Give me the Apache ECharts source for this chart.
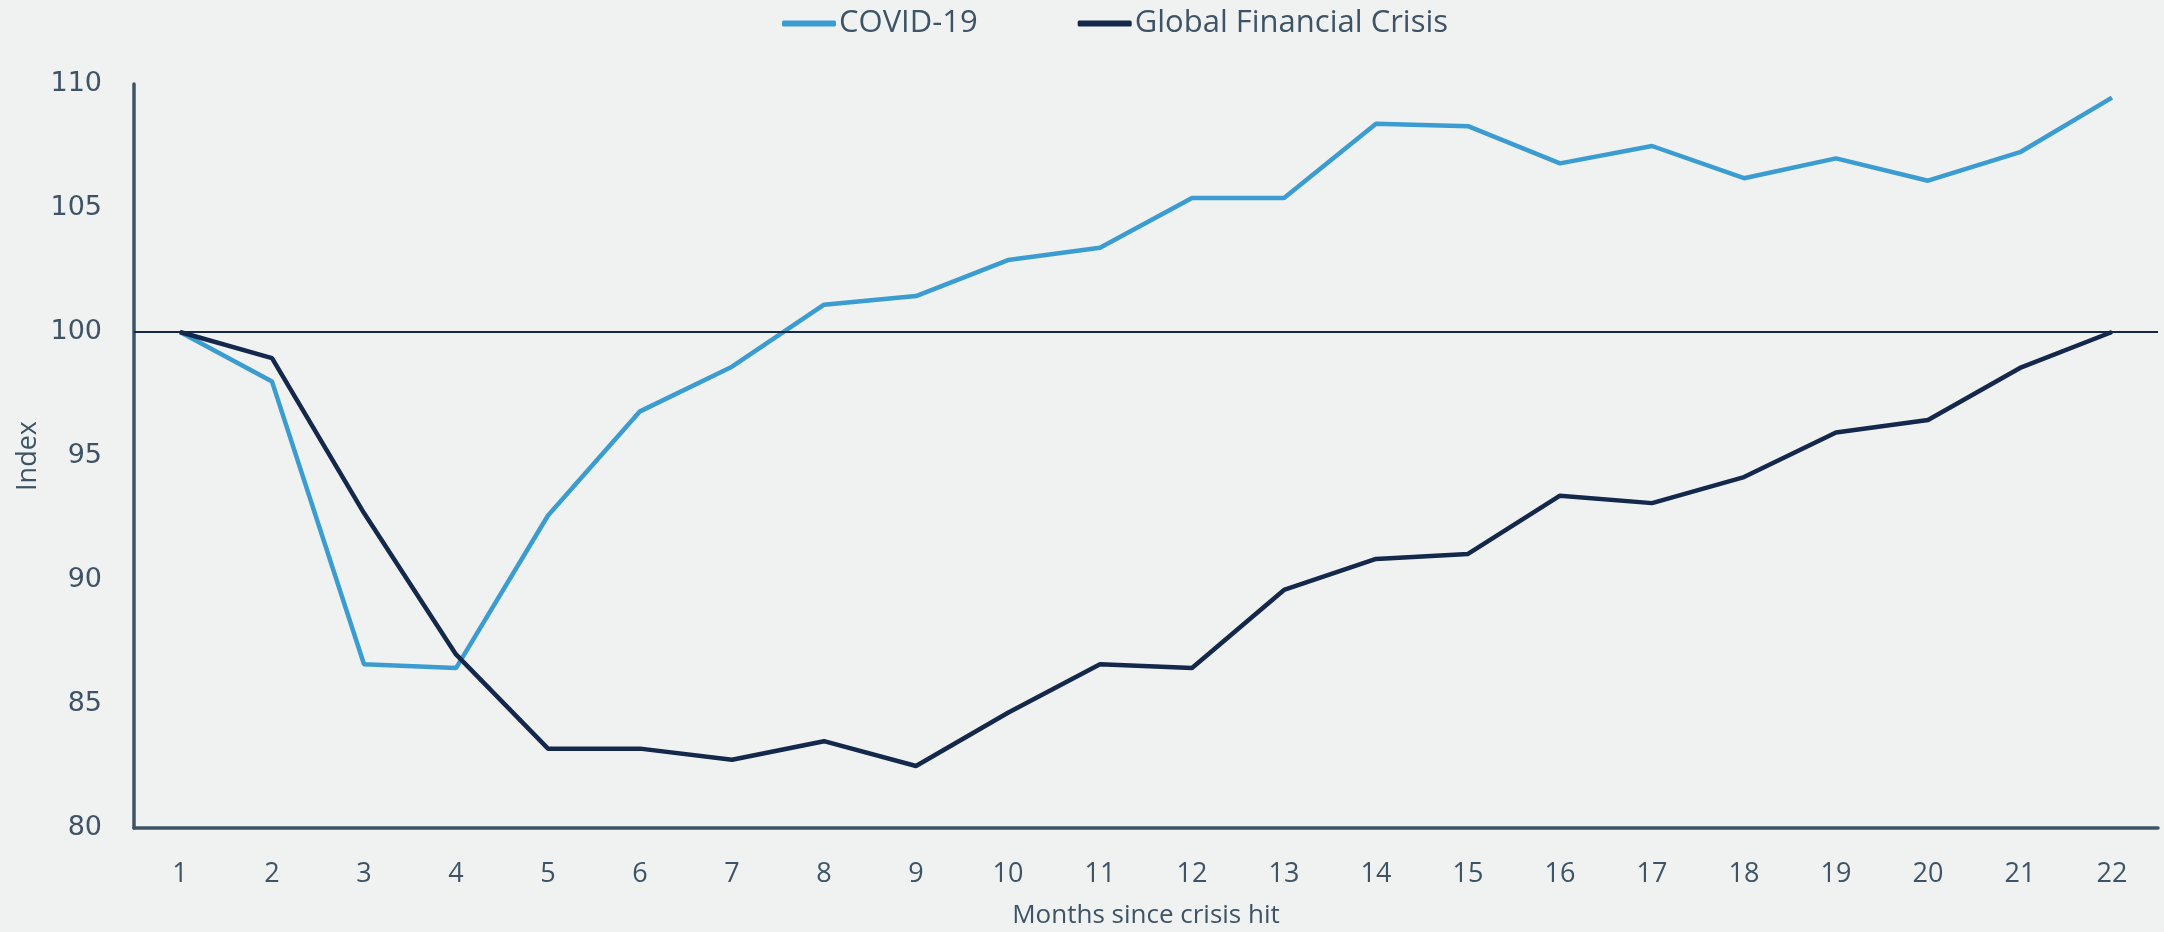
<!DOCTYPE html>
<html>
<head>
<meta charset="utf-8">
<script src="https://cdn.jsdelivr.net/npm/echarts@6/dist/echarts.min.js"></script>
<style>
  html, body { margin: 0; padding: 0; background: #f0f2f2; }
  #chart { width: 2164px; height: 932px; }
</style>
</head>
<body>
<div id="chart"></div>
<script>
// months since the crisis hit
var months = ['1','2','3','4','5','6','7','8','9','10','11','12','13','14','15','16','17','18','19','20','21','22'];
var covid = [100, 98.0, 86.6, 86.45, 92.6, 96.8, 98.6, 101.1, 101.45, 102.9, 103.4, 105.4, 105.4, 108.4, 108.3, 106.8, 107.5, 106.2, 107.0, 106.1, 107.25, 109.45];
var gfc = [100, 98.95, 92.7, 87.0, 83.2, 83.2, 82.75, 83.5, 82.5, 84.65, 86.6, 86.45, 89.6, 90.85, 91.05, 93.4, 93.1, 94.15, 95.95, 96.45, 98.55, 100];
var baseline = 100;

var textColor = '#3e5466';
var chart = echarts.init(document.getElementById('chart'));
var option = {
  backgroundColor: '#f0f2f2',
  animation: false,
  legend: {
    left: 777,
    top: 3,
    itemGap: 100,
    itemWidth: 54,
    itemHeight: 6,
    icon: 'roundRect',
    textStyle: { fontFamily: 'Open Sans', fontSize: 31, color: textColor, padding: [0, 0, 0, -2] },
    data: ['COVID-19', 'Global Financial Crisis']
  },
  grid: { left: 134, right: 6, top: 84, bottom: 104, outerBoundsMode: 'none', containLabel: false },
  xAxis: {
    type: 'category',
    data: months,
    boundaryGap: true,
    name: 'Months since crisis hit',
    nameLocation: 'middle',
    nameGap: 75,
    nameMoveOverlap: false,
    nameTextStyle: { fontFamily: 'Open Sans', fontSize: 26, color: textColor },
    axisLine: { lineStyle: { color: '#3e5466', width: 3.5 } },
    axisTick: { show: false },
    axisLabel: { fontFamily: 'Open Sans', fontSize: 27, color: textColor, margin: 33 }
  },
  yAxis: {
    type: 'value',
    min: 80,
    max: 110,
    interval: 5,
    name: 'Index',
    nameLocation: 'middle',
    nameGap: 92,
    nameMoveOverlap: false,
    nameTextStyle: { fontFamily: 'Open Sans', fontSize: 27, color: textColor },
    axisLine: { show: true, lineStyle: { color: '#3e5466', width: 3.5 } },
    axisTick: { show: false },
    splitLine: { show: false },
    axisLabel: { fontFamily: 'DejaVu Sans', fontSize: 27, color: textColor, margin: 32 }
  },
  series: [
    {
      name: 'COVID-19',
      type: 'line',
      data: covid,
      symbol: 'none',
      itemStyle: { color: '#3b9cd2' },
      lineStyle: { color: '#3b9cd2', width: 4.5 },
      markLine: {
        silent: true,
        symbol: 'none',
        label: { show: false },
        lineStyle: { color: '#13284b', width: 2, type: 'solid' },
        data: [{ yAxis: baseline }]
      }
    },
    {
      name: 'Global Financial Crisis',
      type: 'line',
      data: gfc,
      symbol: 'none',
      itemStyle: { color: '#13284b' },
      lineStyle: { color: '#13284b', width: 4.5 }
    }
  ]
};
chart.setOption(option);
</script>
</body>
</html>
